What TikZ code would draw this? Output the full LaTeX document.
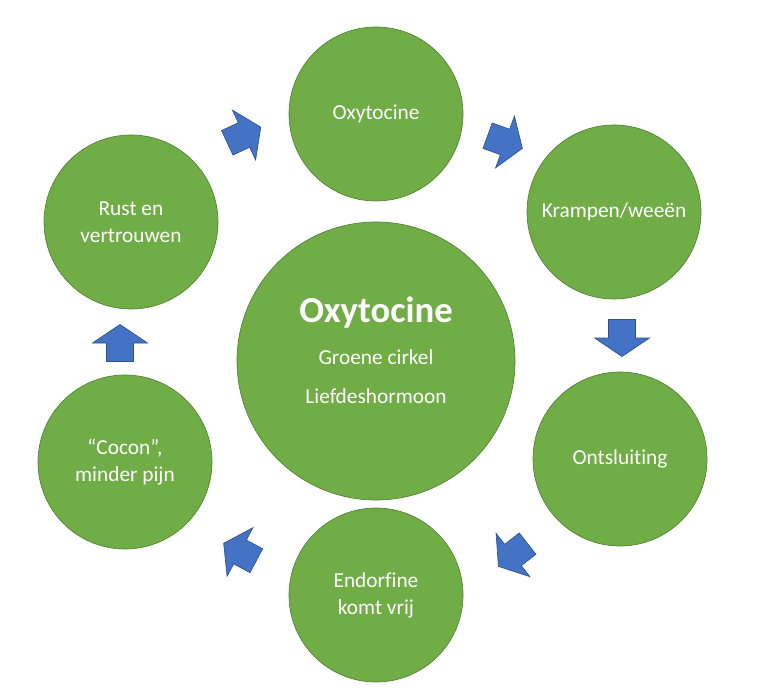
\documentclass[tikz,border=0pt]{standalone}
\usepackage{fontspec}
\setmainfont[Ligatures=NoCommon]{Carlito}
\usepackage{tikz}
\definecolor{leafgreen}{HTML}{70AD47}
\definecolor{leafedge}{HTML}{548235}
\definecolor{arrowblue}{HTML}{4472C4}
\definecolor{arrowedge}{HTML}{2F528F}
\tikzset{
	bubble/.style={
		circle, draw=leafedge, fill=leafgreen, line width=0.5pt,
		minimum size=130.5pt, inner sep=0pt, text=white,
		align=center, font=\fontsize{16}{20.25}\selectfont
	},
	hub/.style={
		bubble, minimum size=208.5pt
	},
	blockarrow/.pic={
		\filldraw[fill=arrowblue, draw=arrowedge, line width=0.5pt]
			(-18.5,-13.5) -- (0,-13.5) -- (0,-27.5) -- (18.5,0) --
			(0,27.5) -- (0,13.5) -- (-18.5,13.5) -- cycle;
	}
}
\begin{document}
\begin{tikzpicture}[x=0.75pt, y=-0.75pt]
	\useasboundingbox (0,0) rectangle (770,698);
	\node[hub] (love) at (376,361) {};
	\node[align=center, text=white, font=\fontsize{16}{20}\selectfont] (lovetext) at (376,350)
		{{\fontsize{27.5}{30}\selectfont\bfseries Oxytocine}\\[12pt] Groene cirkel\\[9pt] Liefdeshormoon};
	\node[bubble] (oxy)      at (376,114) {Oxytocine};
	\node[bubble] (cramps)   at (614,212) {Krampen/weeën};
	\node[bubble] (dilate)   at (620,459) {Ontsluiting};
	\node[bubble] (endo)     at (376,595) {Endorfine\\komt vrij};
	\node[bubble] (cocoon)   at (125,462) {“Cocon”,\\minder pijn};
	\node[bubble] (rest)     at (131,222) {Rust en\\vertrouwen};
	\pic[rotate=25]  at (244,135) {blockarrow};
	\pic[rotate=-20] at (505,142) {blockarrow};
	\pic[rotate=-90] at (622,338) {blockarrow};
	\pic[rotate=218] at (513,555) {blockarrow};
	\pic[rotate=152] at (240,552) {blockarrow};
	\pic[rotate=90]  at (120,343) {blockarrow};
\end{tikzpicture}
\end{document}
